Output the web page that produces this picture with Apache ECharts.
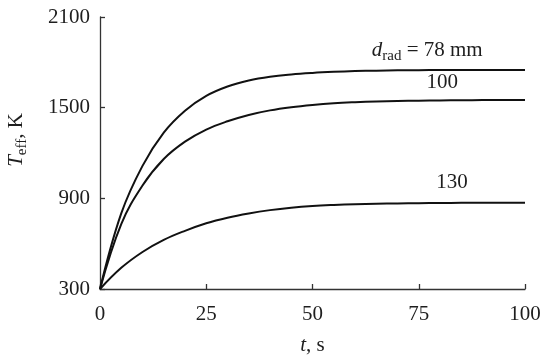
<!DOCTYPE html>
<html>
<head>
<meta charset="utf-8">
<script src="https://cdn.jsdelivr.net/npm/echarts@6/dist/echarts.min.js"></script>
<style>
  html, body { margin: 0; padding: 0; background: #fff; }
  #chart { width: 550px; height: 361px; }
</style>
</head>
<body>
<div id="chart"></div>
<script>
// time, s
const times = [0, 5, 10, 15, 20, 25, 30, 35, 40, 45, 50, 55, 60, 65, 70, 75, 80, 85, 90, 95, 100];
// T_eff, K
const teff78 = [300, 800, 1115, 1335, 1480, 1578, 1640, 1680, 1705, 1720, 1730, 1737, 1742, 1745, 1747, 1748, 1749, 1750, 1750, 1750, 1750];
const teff100 = [300, 730, 985, 1160, 1275, 1355, 1410, 1452, 1482, 1503, 1518, 1529, 1536, 1541, 1544, 1546, 1548, 1549, 1550, 1550, 1550];
const teff130 = [300, 440, 545, 625, 685, 735, 772, 800, 822, 838, 849, 856, 861, 864, 866, 868, 869, 870, 870, 870, 870];
const xTicks = [0, 25, 50, 75, 100];
const yTicks = [300, 900, 1500, 2100];

const font = '"Liberation Serif", "DejaVu Serif", serif';
const textColor = '#1e1e1e';

function pairs(ys) {
    return times.map((t, i) => [t, ys[i]]);
}

function curve(name, ys, label, at) {
    return {
        name: name,
        type: 'line',
        data: pairs(ys),
        smooth: 0.4,
        symbol: 'none',
        lineStyle: { color: '#111', width: 2 },
        markPoint: {
            symbol: 'rect',
            symbolSize: 1,
            silent: true,
            itemStyle: { color: 'rgba(0,0,0,0)' },
            data: [{
                coord: at,
                label: {
                    show: true,
                    position: 'inside',
                    formatter: label,
                    fontFamily: font,
                    fontSize: 21,
                    color: textColor,
                    rich: {
                        i: { fontFamily: font, fontSize: 21, fontStyle: 'italic', color: textColor },
                        sub: { fontFamily: font, fontSize: 15, color: textColor, verticalAlign: 'bottom', lineHeight: 27 },
                        n: { fontFamily: font, fontSize: 21, color: textColor }
                    }
                }
            }]
        }
    };
}

const chart = echarts.init(document.getElementById('chart'));
const option = {
    backgroundColor: '#fff',
    animation: false,
    grid: { left: 100, right: 25, top: 17, bottom: 72, containLabel: false, outerBoundsMode: 'none' },
    xAxis: {
        type: 'value',
        min: xTicks[0],
        max: xTicks[xTicks.length - 1],
        interval: 25,
        name: '{i|t}{n|, s}',
        nameLocation: 'middle',
        nameGap: 46,
        nameTextStyle: {
            rich: {
                i: { fontFamily: font, fontSize: 21, fontStyle: 'italic', color: textColor },
                n: { fontFamily: font, fontSize: 21, color: textColor }
            }
        },
        axisLine: { lineStyle: { color: '#333', width: 1.3 } },
        axisTick: { inside: true, length: 5, lineStyle: { color: '#333', width: 1.3 } },
        axisLabel: { fontFamily: font, fontSize: 21, color: textColor, margin: 15 },
        splitLine: { show: false }
    },
    yAxis: {
        type: 'value',
        min: yTicks[0],
        max: yTicks[yTicks.length - 1],
        interval: 600,
        name: '{i|T}{sub|eff}{n|, K}',
        nameLocation: 'middle',
        nameGap: 70,
        nameTextStyle: {
            padding: [0, 0, 0, 26],
            rich: {
                i: { fontFamily: font, fontSize: 21, fontStyle: 'italic', color: textColor },
                sub: { fontFamily: font, fontSize: 15, color: textColor, verticalAlign: 'bottom', lineHeight: 27 },
                n: { fontFamily: font, fontSize: 21, color: textColor }
            }
        },
        axisLine: { show: true, lineStyle: { color: '#333', width: 1.3 } },
        axisTick: { show: true, inside: true, length: 5, lineStyle: { color: '#333', width: 1.3 } },
        axisLabel: {
            fontFamily: font, fontSize: 21, color: textColor, margin: 10,
            formatter: function (v) { return String(v); }
        },
        splitLine: { show: false }
    },
    series: [
        curve('78 mm', teff78, '{i|d}{sub|rad}{n| = 78 mm}', [77, 1880]),
        curve('100 mm', teff100, '100', [80.5, 1665]),
        curve('130 mm', teff130, '130', [82.8, 1008])
    ]
};
chart.setOption(option);
window.addEventListener('resize', function () {
    chart.resize();
});
</script>
</body>
</html>
